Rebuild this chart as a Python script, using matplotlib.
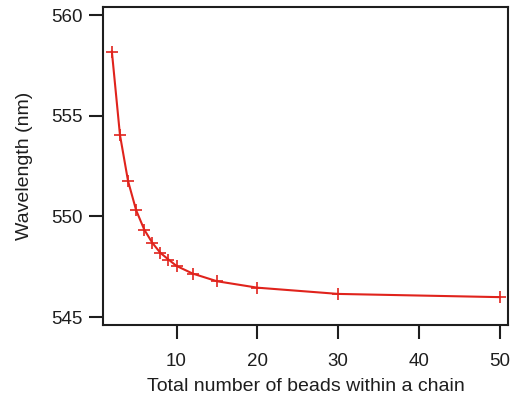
import matplotlib
matplotlib.use("Agg")
import matplotlib.pyplot as plt

# beads per chain vs. peak wavelength
beads = [2, 3, 4, 5, 6, 7, 8, 9, 10, 12, 15, 20, 30, 50]
wavelength = [558.19, 554.05, 551.76, 550.31, 549.35, 548.69, 548.19,
              547.86, 547.54, 547.16, 546.78, 546.46, 546.15, 545.99]
xticks = [10, 20, 30, 40, 50]
yticks = [545, 550, 555, 560]

plt.rcParams["font.family"] = ["Liberation Sans", "DejaVu Sans"]

fig = plt.figure(figsize=(5.16, 3.96), dpi=100)
ax = fig.add_axes([0.2002, 0.179, 0.7843, 0.803])

ax.plot(beads, wavelength, color="#e0231c", lw=1.5, marker="+",
        markersize=8.5, markeredgewidth=1.2)

ax.set_xlim(0.94, 51)
ax.set_ylim(544.6, 560.4)
ax.set_xticks(xticks)
ax.set_yticks(yticks)
ax.tick_params(direction="out", length=10, width=1.5, labelsize=13.5,
               color="#1e1e1e", labelcolor="#1e1e1e")
ax.tick_params(axis="x", pad=10)
ax.tick_params(axis="y", pad=5)
for s in ax.spines.values():
    s.set_linewidth(1.5)
    s.set_color("#1e1e1e")

ax.set_xlabel("Total number of beads within a chain", fontsize=14,
              color="#1e1e1e", labelpad=6)
ax.set_ylabel("Wavelength (nm)", fontsize=14, color="#1e1e1e", labelpad=13)

fig.savefig("out.png", dpi=100)
